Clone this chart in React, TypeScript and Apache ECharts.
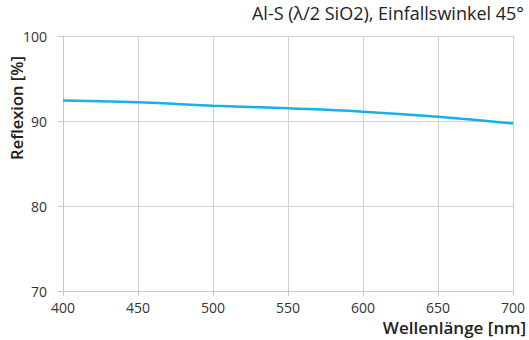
import React, { useEffect, useRef } from "react";
import * as echarts from "echarts";

const wavelengths = [400, 450, 500, 550, 600, 650, 700];
const reflexion = [92.4, 92.2, 91.8, 91.5, 91.1, 90.5, 89.7];
const titleText = "Al-S (λ/2 SiO2), Einfallswinkel 45°";
const yName = "Reflexion [%]";
const xName = "Wellenlänge [nm]";

export default function App() {
  const ref = useRef<HTMLDivElement>(null);
  useEffect(() => {
    if (!ref.current) return;
    const chart = echarts.init(ref.current, null, { renderer: "svg" });
    const font = "'Open Sans', 'Noto Sans', sans-serif";
    chart.setOption({
      animation: false,
      backgroundColor: "#ffffff",
      textStyle: { fontFamily: font },
      title: [
        {
          text: titleText,
          right: 5,
          top: 4,
          padding: 0,
          textStyle: { fontFamily: font, fontSize: 18, fontWeight: 500, color: "#222" },
        },
        {
          text: xName,
          right: 3,
          top: 317,
          padding: 0,
          textStyle: { fontFamily: font, fontSize: 17, fontWeight: 600, color: "#222", lineHeight: 20 },
        },
      ],
      graphic: [
        {
          type: "text",
          x: 16,
          y: 108,
          rotation: Math.PI / 2,
          style: {
            text: yName,
            fontFamily: font,
            fontSize: 16.5,
            fontWeight: 600,
            fill: "#222",
            textAlign: "center",
            textVerticalAlign: "middle",
          },
        },
      ],
      grid: { left: 63, right: 16, top: 36, bottom: 49 },
      xAxis: {
        type: "value",
        min: 400,
        max: 700,
        interval: 50,
        axisLine: { show: true, lineStyle: { color: "#c8c8c8", width: 1 } },
        axisTick: { show: true, length: 5, lineStyle: { color: "#c8c8c8" } },
        axisLabel: { color: "#333", fontSize: 14, margin: 9, lineHeight: 14, fontFamily: font },
        splitLine: { show: true, lineStyle: { color: "#d0d0d0", width: 1 } },
      },
      yAxis: {
        type: "value",
        min: 70,
        max: 100,
        interval: 10,
        axisLine: { show: true, lineStyle: { color: "#c8c8c8", width: 1 } },
        axisTick: { show: true, length: 5, lineStyle: { color: "#c8c8c8" } },
        axisLabel: { color: "#333", fontSize: 14, margin: 16, fontFamily: font },
        splitLine: { show: true, lineStyle: { color: "#d0d0d0", width: 1 } },
      },
      series: [
        {
          type: "line",
          data: wavelengths.map((w, i) => [w, reflexion[i]]),
          smooth: true,
          showSymbol: false,
          lineStyle: { color: "#17b1ea", width: 2.5 },
        },
      ],
    });
    return () => chart.dispose();
  }, []);
  return (
    <div
      ref={ref}
      style={{ position: "fixed", left: 0, top: 0, width: 529, height: 340 }}
    />
  );
}
